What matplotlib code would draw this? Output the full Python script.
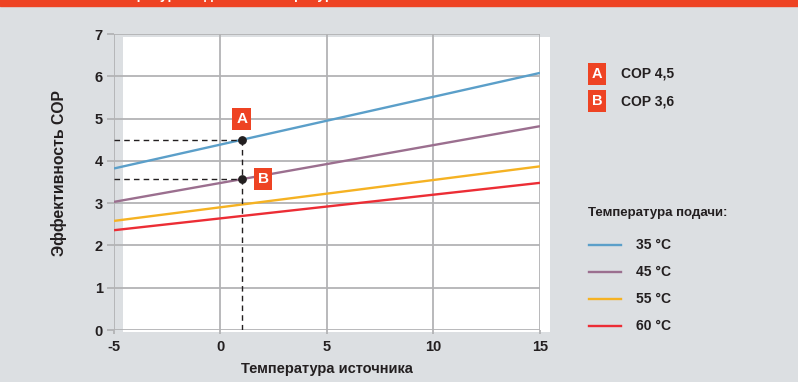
import matplotlib
matplotlib.use("Agg")
import matplotlib.pyplot as plt
from matplotlib.patches import Rectangle

plt.rcParams['font.family'] = ['Liberation Sans', 'DejaVu Sans']
plt.rcParams['font.weight'] = 'bold'
plt.rcParams['axes.unicode_minus'] = False

# source temperature range and COP at each end, per flow temperature
source_temp = [-5, 15]
series_names = ["35 °C", "45 °C", "55 °C", "60 °C"]
cop_35 = [3.82, 6.08]
cop_45 = [3.03, 4.82]
cop_55 = [2.58, 3.87]
cop_60 = [2.36, 3.48]
series_colors = ["#5b9fc9", "#9b6f8f", "#f5b223", "#ec2d35"]

# marked operating points
point_x = 1
point_labels = ["A", "B"]
point_cop = [4.5, 3.57]
point_text = ["COP 4,5", "COP 3,6"]

x_ticks = [-5, 0, 5, 10, 15]
y_ticks = [0, 1, 2, 3, 4, 5, 6, 7]

bg = "#dcdfe2"
accent = "#ee4323"
grid_c = "#b3b3b5"
text_c = "#231f20"

W, H = 798, 382
fig = plt.figure(figsize=(W / 100, H / 100), dpi=100, facecolor=bg)


def fx(px):
    return px / W


def fy(py):
    return 1 - py / H


# red banner along the top edge, its title running off the top
fig.patches.append(Rectangle((0, fy(6)), 1, 1, transform=fig.transFigure,
                             color=accent, zorder=0))
fig.text(fx(255), fy(-0.5), "Температура подачи и температура источника",
         color="white", fontsize=10, ha="center", va="baseline")

ax = fig.add_axes([fx(114), fy(330), fx(540) - fx(114), fy(34) - fy(330)])
ax.set_facecolor("none")
ax.set_xlim(-5, 15)
ax.set_ylim(0, 7)

# white plot panel, slightly offset from the axis frame
ax.add_patch(Rectangle((-4.58, -0.05), 20.05, 6.98, facecolor="white",
                       edgecolor="none", clip_on=False, zorder=0))

for s in ax.spines.values():
    s.set_visible(False)
ax.set_xticks(x_ticks)
ax.set_yticks(y_ticks)
ax.grid(True, color=grid_c, linewidth=1.3, zorder=1)
ax.set_axisbelow(False)
ax.tick_params(axis="y", length=5, width=1.3, color=grid_c, labelsize=10.5,
               labelcolor=text_c, pad=3)
ax.tick_params(axis="x", length=3, width=1.3, color=grid_c, labelsize=10.5,
               labelcolor=text_c, pad=4)
for lab in ax.get_xticklabels() + ax.get_yticklabels():
    lab.set_fontweight("bold")

for vals, col in zip([cop_35, cop_45, cop_55, cop_60], series_colors):
    ax.plot(source_temp, vals, color=col, linewidth=1.7, zorder=3,
            solid_capstyle="butt")

# dashed guides to the marked points
ax.plot([point_x, point_x], [0, point_cop[0]], color="#231f20", linestyle=(0, (4, 3)),
        linewidth=1.0, zorder=4)
for c in point_cop:
    ax.plot([-5, point_x], [c, c], color="#231f20", linestyle=(0, (4, 3)),
            linewidth=1.0, zorder=4)
ax.scatter([point_x] * 2, point_cop, s=28, color="#231f20", zorder=5)

box = dict(boxstyle="square,pad=0.25", facecolor=accent, edgecolor="none")
ax.text(1.0, 4.99, point_labels[0], color="white", fontsize=11, ha="center",
        va="center", bbox=box, zorder=6)
ax.text(2.0, 3.57, point_labels[1], color="white", fontsize=11, ha="center",
        va="center", bbox=box, zorder=6)

ax.set_xlabel("Температура источника", fontsize=10.5, color=text_c,
              fontweight="bold", labelpad=6)
ax.set_ylabel("Эффективность COP", fontsize=11.3, color=text_c,
              fontweight="bold")
ax.yaxis.set_label_coords(-0.111, 0.53)

# key for the marked points
for i, (lab, txt) in enumerate(zip(point_labels, point_text)):
    yy = 74 + 27 * i
    fig.text(fx(597), fy(yy), lab, color="white", fontsize=10.5, ha="center",
             va="center", bbox=box)
    fig.text(fx(621), fy(yy), txt, color=text_c, fontsize=10, ha="left",
             va="center", fontweight="bold")

# key for the flow temperature lines
fig.text(fx(588), fy(213), "Температура подачи:", color=text_c, fontsize=9.5,
         ha="left", va="center", fontweight="bold")
for i, (name, col) in enumerate(zip(series_names, series_colors)):
    yy = 245 + 27 * i
    fig.add_artist(plt.Line2D([fx(589), fx(621)], [fy(yy), fy(yy)], color=col,
                              linewidth=1.7, transform=fig.transFigure))
    fig.text(fx(636), fy(yy), name, color=text_c, fontsize=10, ha="left",
             va="center", fontweight="bold")

fig.savefig("out.png", dpi=100, facecolor=bg)
